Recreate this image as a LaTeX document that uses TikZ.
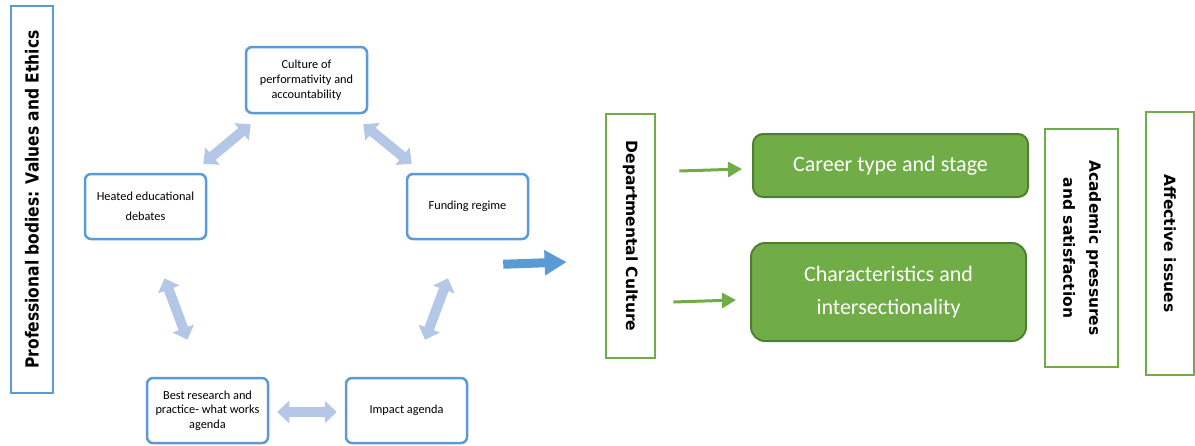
\documentclass[tikz,border=0pt]{standalone}
\usepackage{fontspec}
\setmainfont{Carlito}
\newfontfamily\labfont{DejaVu Sans}
\usetikzlibrary{arrows.meta,calc}
\definecolor{boxblue}{HTML}{5B9BD5}
\definecolor{lightarr}{HTML}{B4C7E7}
\definecolor{accgreen}{HTML}{70AD47}
\definecolor{darkgreen}{HTML}{507E32}
\begin{document}
\begin{tikzpicture}[x=1pt,y=-1pt,
  bluebox/.style={draw=boxblue, line width=2.5pt, rounded corners=6pt, align=center, inner sep=0pt, font=\fontsize{12.3}{15}\selectfont, minimum width=121pt, minimum height=65pt},
  greenframe/.style={draw=accgreen, line width=2.8pt, inner sep=0pt},
  greenbox/.style={draw=darkgreen, fill=accgreen, line width=2pt, rounded corners=10pt, text=white, align=center, inner sep=0pt, font=\fontsize{22}{33}\selectfont},
  dblarrow/.style={lightarr, line width=10pt, {Triangle[width=22pt,length=12pt]}-{Triangle[width=22pt,length=12pt]}},
  greenarrow/.style={accgreen, line width=3pt, -{Triangle[width=15pt,length=14pt]}},
  bluearrow/.style={boxblue, line width=9pt, -{Triangle[width=24pt,length=22pt]}},
  rotlab/.style={font=\labfont\bfseries\fontsize{15.5}{26}\selectfont}
]
\useasboundingbox (0,0) rectangle (1195,445);

\node[draw=boxblue, line width=2.5pt, minimum width=42pt, minimum height=387pt, inner sep=0pt, font=\labfont\bfseries\fontsize{18}{22}\selectfont] (prof) at (32,199.5) {\rotatebox{90}{\scalebox{0.86}[1]{Professional bodies: Values and Ethics}}};

\node[bluebox, minimum height=66pt] (cult) at (306.5,80) {Culture of\\performativity and\\accountability};
\node[bluebox, font=\fontsize{12.3}{20}\selectfont] (heat) at (145.5,206.5) {Heated educational\\debates};
\node[bluebox] (fund) at (467.5,206.5) {Funding regime};
\node[bluebox, font=\fontsize{12.3}{14.7}\selectfont] (best) at (207.5,410.5) {Best research and\\practice- what works\\agenda};
\node[bluebox] (imp) at (406.5,410.5) {Impact agenda};

\node[greenframe, minimum width=49pt, minimum height=244pt, rotlab] (dept) at (630.5,236) {\rotatebox{-90}{Departmental Culture}};
\node[greenbox, minimum width=275pt, minimum height=63pt] (car) at (890.5,165.5) {Career type and stage};
\node[greenbox, rounded corners=14pt, minimum width=275pt, minimum height=98pt] (char) at (888.5,292) {Characteristics and\\intersectionality};
\node[greenframe, minimum width=73pt, minimum height=238pt, rotlab] (acad) at (1081.5,248) {\rotatebox{-90}{\begin{tabular}{@{}c@{}}Academic pressures\\and satisfaction\end{tabular}}};
\node[greenframe, minimum width=48pt, minimum height=263pt, rotlab] (aff) at (1170,243.5) {\rotatebox{-90}{Affective issues}};

\draw[dblarrow] ($(cult.south west)+(6,10)$) -- ($(heat.north east)+(-4,-9)$);
\draw[dblarrow] ($(cult.south east)+(-5,10)$) -- ($(fund.north west)+(6,-9)$);
\draw[dblarrow] ($(heat.south)+(19,38)$) -- ($(best.north)+(-20,-37)$);
\draw[dblarrow] ($(fund.south)+(-19.5,38)$) -- ($(imp.north)+(18.5,-37)$);
\draw[dblarrow] ($(best.east)+(8,1.5)$) -- ($(imp.west)+(-8,1.5)$);
\draw[bluearrow] ($(fund.south east)+(-26,24)$) -- ($(dept.west)+(-38,26)$);
\draw[greenarrow] ($(dept.east)+(23,-65)$) -- ($(car.west)+(-10,3.5)$);
\draw[greenarrow] ($(dept.east)+(17,66)$) -- ($(char.west)+(-14,8)$);
\end{tikzpicture}
\end{document}
